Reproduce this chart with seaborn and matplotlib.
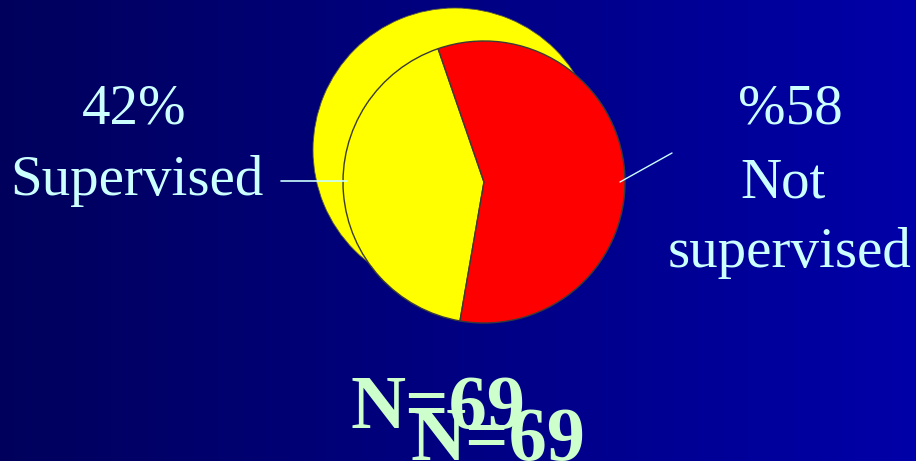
import numpy as np
import matplotlib
matplotlib.use("Agg")
import matplotlib.pyplot as plt
import seaborn as sns
from matplotlib.colors import LinearSegmentedColormap

# ---- data ----
categories = ["Supervised", "Not supervised"]
shares = [42, 58]
pct_labels = ["42%", "%58"]
name_labels = ["Supervised", "Not\nsupervised"]
slice_colors = ["#FFFF00", "#FF0000"]
n_label = "N=69"

sns.set_theme(style="white")

W, H = 916, 461
fig = plt.figure(figsize=(W / 100, H / 100), dpi=100)
ax = fig.add_axes([0, 0, 1, 1])
ax.set_axis_off()

# background gradient
cmap = LinearSegmentedColormap.from_list("bg", ["#00005C", "#0000A8"])
grad = np.linspace(0, 1, 256).reshape(1, -1)
ax.imshow(grad, extent=[0, W, 0, H], aspect="auto", cmap=cmap, zorder=0)

# back yellow disc (shadow-like copy)
ax.pie([sum(shares)], colors=[slice_colors[0]], center=(455, H - 150), radius=142,
       wedgeprops=dict(edgecolor="#5A5A40", linewidth=0.6), frame=False)

# main pie
wedges, _ = ax.pie(shares, colors=slice_colors, startangle=109, counterclock=True,
                   center=(484, H - 182), radius=141,
                   wedgeprops=dict(edgecolor="#3A3A3A", linewidth=1.0), frame=False)
for w in wedges:
    w.set_zorder(3)

txt_color = "#CCFFFF"
font = "Liberation Serif"

# left labels
ax.text(134, H - 123, pct_labels[0], ha="center", va="baseline", fontsize=41,
        color=txt_color, family=font, zorder=5)
ax.text(137, H - 195, name_labels[0], ha="center", va="baseline", fontsize=41,
        color=txt_color, family=font, zorder=5)
ax.plot([281, 347], [H - 181, H - 181], color=txt_color, lw=1.2, zorder=5)

# right labels
ax.text(790, H - 123, pct_labels[1], ha="center", va="baseline", fontsize=41,
        color=txt_color, family=font, zorder=5)
ax.text(783, H - 197, "Not", ha="center", va="baseline", fontsize=41,
        color=txt_color, family=font, zorder=5)
ax.text(790, H - 267, "supervised", ha="center", va="baseline", fontsize=41,
        color=txt_color, family=font, zorder=5)
ax.plot([620, 672], [H - 182, H - 153], color=txt_color, lw=1.0, zorder=5)

# N=69 (duplicated, overlapping)
n_color = "#CCFFCC"
ax.text(438, H - 428, n_label, ha="center", va="baseline", fontsize=55,
        fontweight="bold", color=n_color, family=font, zorder=6)
ax.text(498, H - 460, n_label, ha="center", va="baseline", fontsize=55,
        fontweight="bold", color=n_color, family=font, zorder=6)

ax.set_xlim(0, W)
ax.set_ylim(0, H)
ax.set_aspect("auto")

fig.savefig("out.png", dpi=100)
